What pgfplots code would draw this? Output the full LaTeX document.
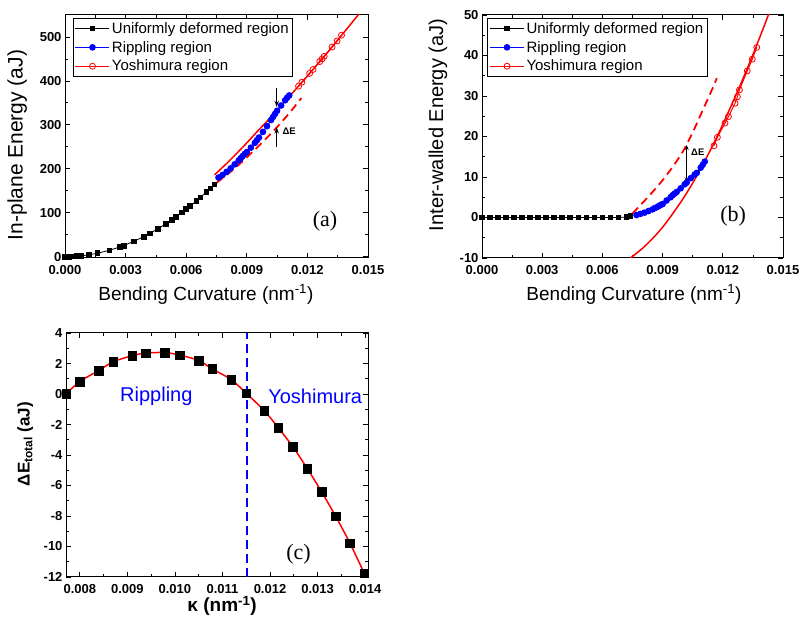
\documentclass[border=0pt]{standalone}
\usepackage{pgfplots}
\pgfplotsset{compat=1.18}
\usepackage{fontspec}
\setmainfont{Liberation Sans}
\newfontfamily\seriffont{Liberation Serif}
\usetikzlibrary{arrows.meta}

\definecolor{ored}{RGB}{255,0,0}
\definecolor{oblue}{RGB}{0,0,255}

\tikzset{arr/.style={line width=0.9pt, -{Stealth[length=6pt, width=4.5pt]}}}

\pgfplotsset{
  panel/.style={
    scale only axis,
    axis line style={line width=1pt},
    tick align=inside,
    minor x tick num=1, minor y tick num=1,
    major tick length=5pt, minor tick length=3pt,
    every tick/.style={black, line width=0.8pt},
    scaled x ticks=false, scaled y ticks=false,
    /pgf/number format/assume math mode=true,
    xticklabel={\bfseries\pgfmathprintnumber{\tick}},
    yticklabel={\bfseries\pgfmathprintnumber{\tick}},
    tick label style={font=\bfseries\fontsize{13}{13}\selectfont},
    xticklabel style={yshift=-4pt},
    legend cell align=left,
    legend style={draw=black, line width=0.8pt, font=\fontsize{15}{17}\selectfont,
      inner sep=2pt, row sep=2.5pt, anchor=north west},
    legend image code/.code={\draw[mark repeat=2,mark phase=2]
      plot coordinates {(0pt,0pt) (17pt,0pt) (34pt,0pt)};},
  },
  curvx/.style={
    xmin=0, xmax=0.015,
    xtick={0,0.003,0.006,0.009,0.012,0.015},
    xticklabel style={/pgf/number format/.cd, fixed, fixed zerofill, precision=3},
  },
  uni/.style={black, line width=0.8pt, mark=square*, mark size=2.4pt},
  rip/.style={oblue, line width=1pt, mark=*, mark size=2.8pt},
  yos/.style={ored, line width=1pt, mark=o, mark size=3pt, mark options={line width=0.8pt}},
}

\begin{document}
\begin{tikzpicture}
\useasboundingbox (0,0) rectangle (801pt,617pt);

% (a) in-plane energy
\begin{axis}[panel, curvx,
  at={(65pt,359pt)}, anchor=south west, width=303pt, height=243pt,
  ymin=-3, ymax=550, ytick={0,100,200,300,400,500},
  xlabel={Bending Curvature (nm\textsuperscript{-1})},
  ylabel={In-plane Energy (aJ)},
  xlabel style={font=\fontsize{19}{21}\selectfont, at={(axis description cs:0.465,-0.173)}, anchor=base},
  ylabel style={font=\fontsize{21}{23}\selectfont, at={(axis description cs:-0.158,0.465)}, anchor=center},
  legend style={at={(0.025,0.988)}},
]
\addplot[uni] coordinates {
  (0.0000,0) (0.0002,0.1) (0.0004,0.5) (0.0006,1.1) (0.0008,1.9) (0.0012,4.3)
  (0.0016,7.7) (0.0022,14.5) (0.0027,21.9) (0.0029,25.2) (0.0034,34.7)
  (0.0039,45.6) (0.0042,52.9) (0.0046,63.5) (0.0050,75.0) (0.0053,84.3)
  (0.0055,90.8) (0.0058,100.9) (0.0060,108.0) (0.0062,115.3) (0.0065,126.8)
  (0.0067,134.7) (0.0070,147.0) (0.0072,155.5) (0.0074,164.3)
};
\addlegendentry{Uniformly deformed region}
\addplot[rip] coordinates {
  (0.0076,180) (0.0078,186) (0.0080,193) (0.0082,201) (0.0084,210) (0.0086,219)
  (0.0087,224) (0.0088,229) (0.0089,234) (0.0090,238) (0.0092,248) (0.0094,259)
  (0.0095,265) (0.0096,271) (0.0098,284) (0.0100,297) (0.0102,311) (0.0103,318)
  (0.0104,325) (0.0105,332) (0.0107,344) (0.0109,356) (0.0110,362) (0.0111,367)
};
\addlegendentry{Rippling region}
\addplot[yos] coordinates {
  (0.01156,388) (0.01173,397) (0.01211,417) (0.01228,426) (0.01261,444)
  (0.01273,450) (0.01283,456) (0.01322,477) (0.01347,491) (0.01369,504)
};
\addlegendentry{Yoshimura region}
\addplot[ored, line width=1.5pt, smooth, forget plot] coordinates {
  (0.0074,186) (0.0080,212) (0.0085,235) (0.0090,259) (0.0095,284) (0.0100,308)
  (0.0105,333) (0.0110,359) (0.0115,385) (0.0120,411) (0.0125,438) (0.0130,465)
  (0.0135,493) (0.0140,521) (0.0146,555)
};
\addplot[ored, line width=1.8pt, dash pattern=on 8pt off 5pt, smooth, forget plot] coordinates {
  (0.0075,168) (0.0080,186) (0.0085,205) (0.0090,226) (0.0095,248) (0.0100,271)
  (0.0105,295) (0.0110,321) (0.0115,349) (0.0117,361)
};
\draw[arr] (axis cs:0.01048,384) -- (axis cs:0.01048,341);
\draw[arr] (axis cs:0.01048,250) -- (axis cs:0.01048,294);
\node[anchor=west, font=\bfseries\fontsize{9.5}{10}\selectfont] at (axis cs:0.0106,286) {ΔE};
\node[font=\seriffont\fontsize{22}{24}\selectfont] at (axis cs:0.01287,80) {(a)};
\end{axis}

% (b) inter-walled energy
\begin{axis}[panel, curvx,
  at={(482pt,359pt)}, anchor=south west, width=301pt, height=243pt,
  ymin=-10, ymax=50, ytick={-10,0,10,20,30,40,50},
  xlabel={Bending Curvature (nm\textsuperscript{-1})},
  ylabel={Inter-walled Energy (aJ)},
  xlabel style={font=\fontsize{19}{21}\selectfont, at={(axis description cs:0.505,-0.173)}, anchor=base},
  ylabel style={font=\fontsize{20}{22}\selectfont, at={(axis description cs:-0.146,0.547)}, anchor=center},
  legend style={at={(0.017,0.988)}},
]
\addplot[uni] coordinates {
  (0.0000,0) (0.0004,0) (0.0008,0) (0.0012,0) (0.0016,0) (0.0020,0) (0.0024,0)
  (0.0028,0) (0.0032,0) (0.0036,0) (0.0040,0) (0.0044,0) (0.0048,0) (0.0052,0)
  (0.0056,0) (0.0060,0) (0.0064,0) (0.0068,0) (0.0072,0.1) (0.0074,0.3)
};
\addlegendentry{Uniformly deformed region}
\addplot[rip] coordinates {
  (0.0077,0.6) (0.0079,0.9) (0.0081,1.2) (0.0083,1.6) (0.0085,2.0) (0.0086,2.3)
  (0.0087,2.5) (0.0088,2.8) (0.0089,3.1) (0.0090,3.3) (0.0092,4.2) (0.0094,5.0)
  (0.0095,5.5) (0.0096,5.9) (0.0097,6.3) (0.0099,7.2) (0.0101,8.2) (0.0102,8.6)
  (0.0104,9.7) (0.0106,10.6) (0.0107,11.0) (0.0109,12.3) (0.0110,13.0) (0.0111,13.8)
};
\addlegendentry{Rippling region}
\addplot[yos] coordinates {
  (0.01156,17.7) (0.01173,19.8) (0.01211,23.3) (0.01228,24.9) (0.01261,28.2)
  (0.01273,29.8) (0.01283,31.5) (0.01322,36.2) (0.01347,39.1) (0.01369,42.0)
};
\addlegendentry{Yoshimura region}
\addplot[ored, line width=1.5pt, smooth, forget plot] coordinates {
  (0.0074,-10.0) (0.0080,-7.6) (0.0085,-5.2) (0.0090,-2.4) (0.0095,0.9)
  (0.0100,4.5) (0.0105,8.5) (0.0110,13.0) (0.0115,17.8) (0.0120,23.0)
  (0.0125,28.5) (0.0130,34.2) (0.0135,40.2) (0.0140,46.5) (0.0145,53.0)
};
\addplot[ored, line width=1.8pt, dash pattern=on 8pt off 5pt, smooth, forget plot] coordinates {
  (0.0075,1.0) (0.0080,3.6) (0.0085,6.3) (0.0090,9.2) (0.0095,12.5) (0.0100,16.2)
  (0.0105,21.0) (0.0110,26.5) (0.0115,32.0) (0.0117,34.4)
};
\draw[line width=0.9pt, {Stealth[length=5pt, width=4pt]}-{Stealth[length=5pt, width=4pt]}] (axis cs:0.0102,8.6) -- (axis cs:0.0102,17.9);
\node[anchor=west, font=\bfseries\fontsize{9.5}{10}\selectfont] at (axis cs:0.01025,16) {ΔE};
\node[font=\seriffont\fontsize{22}{24}\selectfont] at (axis cs:0.01252,0.2) {(b)};
\end{axis}

% (c) total energy difference
\begin{axis}[panel,
  at={(66pt,40pt)}, anchor=south west, width=302pt, height=244pt,
  xmin=0.00771, xmax=0.01406, ymin=-12, ymax=4,
  xtick={0.008,0.009,0.010,0.011,0.012,0.013,0.014},
  ytick={-12,-10,-8,-6,-4,-2,0,2,4},
  xticklabel style={/pgf/number format/.cd, fixed, fixed zerofill, precision=3},
  xlabel={κ (nm\textsuperscript{-1})},
  ylabel={ΔE\textsubscript{total} (aJ)},
  xlabel style={font=\bfseries\fontsize{19}{21}\selectfont, at={(axis description cs:0.517,-0.143)}, anchor=base},
  ylabel style={font=\bfseries\fontsize{17}{19}\selectfont, at={(axis description cs:-0.135,0.545)}, anchor=center},
]
\addplot[oblue, line width=1.8pt, dash pattern=on 9pt off 5pt] coordinates {(0.01152,-12) (0.01152,4)};
\addplot[ored, line width=1.5pt, smooth] coordinates {
  (0.00771,0.00) (0.0080,0.82) (0.0084,1.54) (0.0087,2.11) (0.0091,2.51)
  (0.00939,2.68) (0.00979,2.72) (0.0101,2.55) (0.0105,2.20) (0.01078,1.65)
  (0.01118,0.95) (0.0115,0.05) (0.01188,-1.10) (0.01217,-2.20) (0.01248,-3.46)
  (0.01278,-4.88) (0.01308,-6.39) (0.01338,-8.02) (0.01368,-9.78) (0.01398,-11.75)
};
\addplot[only marks, mark=square*, black, mark size=4.3pt] coordinates {
  (0.00771,0.00) (0.0080,0.82) (0.0084,1.54) (0.0087,2.11) (0.0091,2.51)
  (0.00939,2.68) (0.00979,2.72) (0.0101,2.55) (0.0105,2.20) (0.01078,1.65)
  (0.01118,0.95) (0.0115,0.05) (0.01188,-1.10) (0.01217,-2.20) (0.01248,-3.46)
  (0.01278,-4.88) (0.01308,-6.39) (0.01338,-8.02) (0.01368,-9.78) (0.01398,-11.75)
};
\node[text=oblue, font=\fontsize{20}{22}\selectfont] at (axis cs:0.00961,-0.17) {Rippling};
\node[text=oblue, font=\fontsize{20}{22}\selectfont] at (axis cs:0.01295,-0.17) {Yoshimura};
\node[font=\seriffont\fontsize{22}{24}\selectfont] at (axis cs:0.0126,-10.5) {(c)};
\end{axis}
\end{tikzpicture}
\end{document}
